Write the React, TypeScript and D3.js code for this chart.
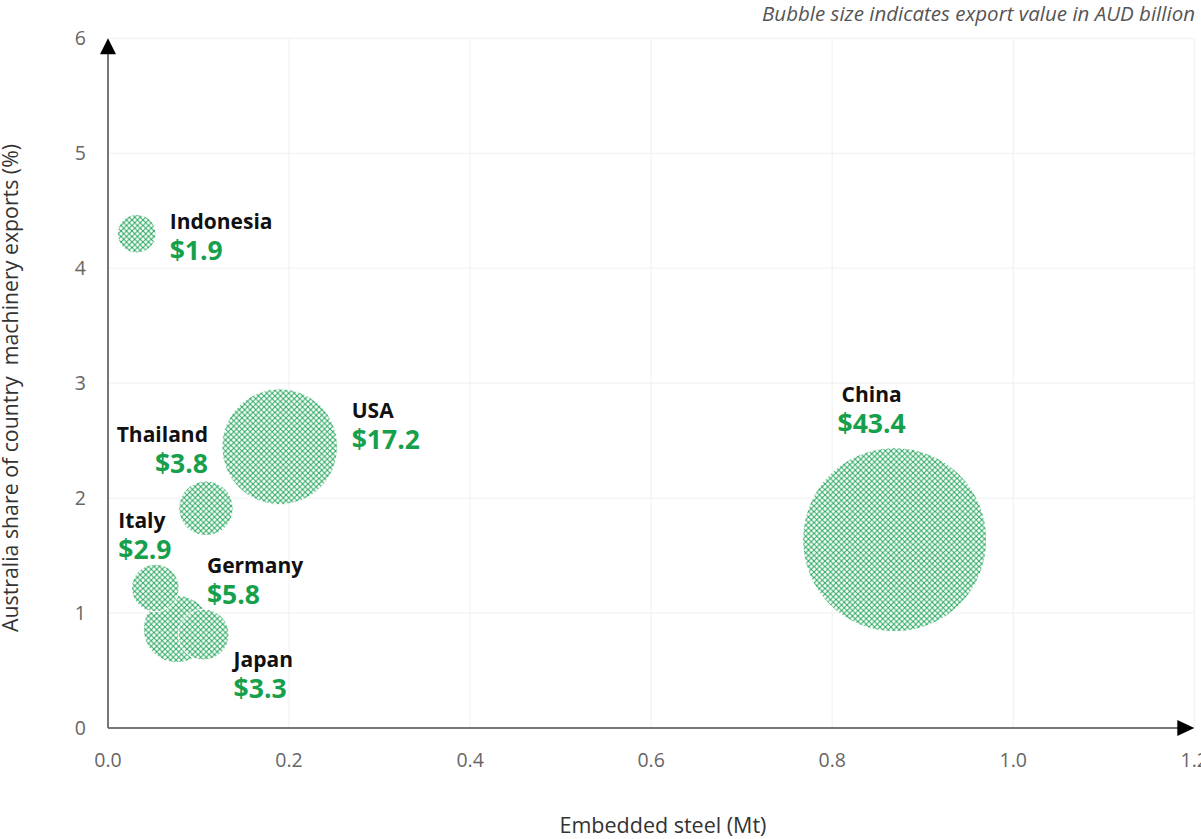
import React from "react";
import * as d3 from "d3";

const countries = ["China", "USA", "Germany", "Thailand", "Japan", "Italy", "Indonesia"];
const embeddedSteel = [0.869, 0.1897, 0.0762, 0.1082, 0.1056, 0.0523, 0.0317];
const australiaShare = [1.638, 2.447, 0.861, 1.911, 0.8125, 1.218, 4.3];
const exportValue = [43.4, 17.2, 5.8, 3.8, 3.3, 2.9, 1.9];
const xTicks = [0, 0.2, 0.4, 0.6, 0.8, 1.0, 1.2];
const yTicks = [0, 1, 2, 3, 4, 5, 6];

// label layout: offset (px) of the name baseline from the bubble centre, plus anchor
const labelLayout: Record<string, { dx: number; dy: number; anchor: string }> = {
  China: { dx: -23, dy: -138, anchor: "middle" },
  USA: { dx: 72, dy: -29, anchor: "start" },
  Germany: { dx: 30, dy: -56, anchor: "start" },
  Thailand: { dx: 2, dy: -66, anchor: "end" },
  Japan: { dx: 30, dy: 32, anchor: "start" },
  Italy: { dx: -37, dy: -60, anchor: "start" },
  Indonesia: { dx: 33, dy: -5, anchor: "start" },
};

const W = 1201;
const H = 839;
const FONT = "'Open Sans', 'Noto Sans', sans-serif";
const GREEN = "#16a04c";

export default function App() {
  const x = d3.scaleLinear().domain([0, 1.2]).range([108, 1194.3]);
  const y = d3.scaleLinear().domain([0, 6]).range([728, 38.3]);
  const r = d3.scaleSqrt().domain([0, 43.4]).range([0, 92]);

  const order = d3.range(countries.length).sort((a, b) => exportValue[b] - exportValue[a]);

  return (
    <svg
      width={W}
      height={H}
      style={{ position: "absolute", left: 0, top: 0, background: "#fff" }}
      fontFamily={FONT}
    >
      <defs>
        <pattern id="hatch" patternUnits="userSpaceOnUse" width={5.5} height={5.5}>
          <rect width={5.5} height={5.5} fill="#ffffff" />
          <path d="M0,0 L5.5,5.5 M5.5,0 L0,5.5" stroke="#2fab64" strokeWidth={1.1} />
        </pattern>
      </defs>

      {/* grid */}
      {xTicks.map((t) => (
        <line key={"gx" + t} x1={x(t)} x2={x(t)} y1={y(6)} y2={y(0)} stroke="#efefef" strokeWidth={1} />
      ))}
      {yTicks.map((t) => (
        <line key={"gy" + t} x1={x(0)} x2={x(1.2)} y1={y(t)} y2={y(t)} stroke="#efefef" strokeWidth={1} />
      ))}

      {/* tick labels */}
      {xTicks.map((t) => (
        <text key={"tx" + t} x={x(t)} y={767} textAnchor="middle" fontSize={19.5} fill="#666">
          {d3.format(".1f")(t)}
        </text>
      ))}
      {yTicks.map((t) => (
        <text key={"ty" + t} x={86} y={y(t)} dy="0.35em" textAnchor="end" fontSize={19.5} fill="#666">
          {t}
        </text>
      ))}

      {/* axes */}
      <line x1={x(0)} x2={x(0)} y1={y(0)} y2={y(6) + 10} stroke="#777" strokeWidth={2} />
      <line x1={x(0)} x2={x(1.2) - 10} y1={y(0)} y2={y(0)} stroke="#777" strokeWidth={2} />
      <path
        d={`M${x(0)},${y(6)} L${x(0) - 8},${y(6) + 16} L${x(0) + 8},${y(6) + 16} Z`}
        fill="#000"
      />
      <path
        d={`M${x(1.2)},${y(0)} L${x(1.2) - 17},${y(0) - 8} L${x(1.2) - 17},${y(0) + 8} Z`}
        fill="#000"
      />

      {/* bubbles */}
      {order.map((i) => (
        <circle
          key={countries[i]}
          cx={x(embeddedSteel[i])}
          cy={y(australiaShare[i])}
          r={r(exportValue[i])}
          fill="url(#hatch)"
          stroke="#fff"
          strokeWidth={1}
        />
      ))}

      {/* labels */}
      {countries.map((c, i) => {
        const L = labelLayout[c];
        const lx = x(embeddedSteel[i]) + L.dx;
        const ly = y(australiaShare[i]) + L.dy;
        return (
          <g key={"l" + c}>
            <text x={lx} y={ly} textAnchor={L.anchor} fontSize={21} fontWeight={700} fill="#111">
              {c}
            </text>
            <text x={lx} y={ly + 31} textAnchor={L.anchor} fontSize={26.5} fontWeight={700} fill={GREEN}>
              {"$" + d3.format(".1f")(exportValue[i])}
            </text>
          </g>
        );
      })}

      {/* titles */}
      <text x={663} y={833} textAnchor="middle" fontSize={21.5} fill="#333">
        Embedded steel (Mt)
      </text>
      <text
        transform={`translate(18,388) rotate(-90)`}
        textAnchor="middle"
        fontSize={21.3}
        fill="#333"
        style={{ whiteSpace: "pre" }}
      >
        {"Australia share of country  machinery exports (%)"}
      </text>
      <text x={1195} y={21} textAnchor="end" fontSize={20.5} fontStyle="italic" fill="#555">
        Bubble size indicates export value in AUD billion
      </text>
    </svg>
  );
}
